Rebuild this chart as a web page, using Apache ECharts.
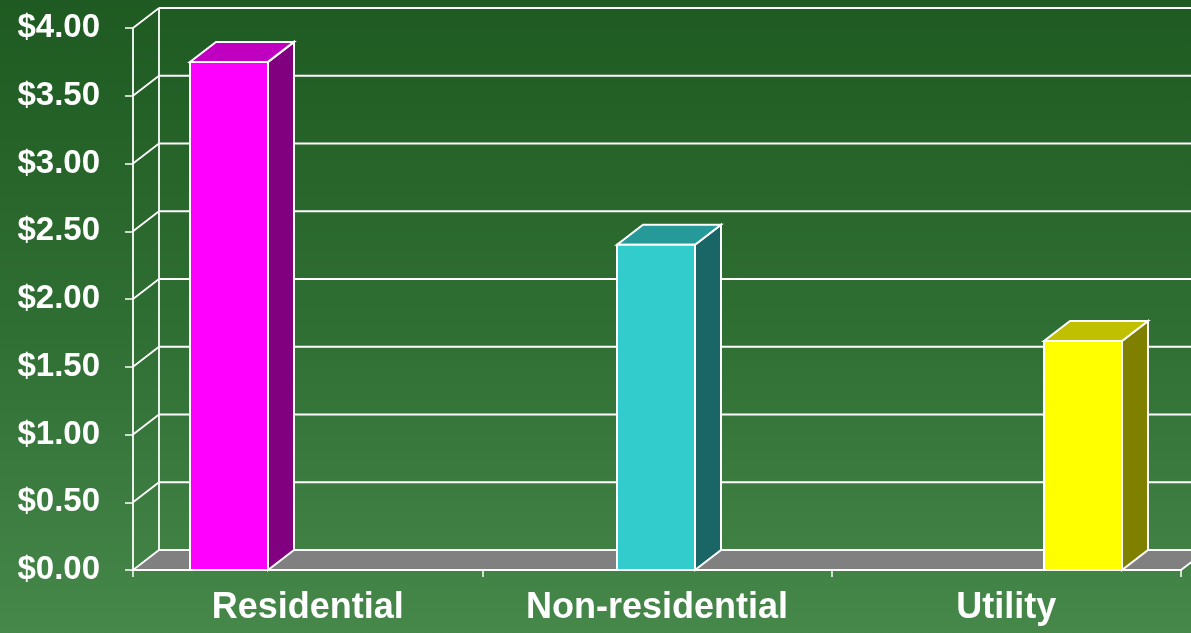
<!DOCTYPE html>
<html>
<head>
<meta charset="utf-8">
<script src="https://cdn.jsdelivr.net/npm/echarts@6/dist/echarts.min.js"></script>
<style>
html,body{margin:0;padding:0;background:#2f6f33;}
#chart{width:1191px;height:633px;}
</style>
</head>
<body>
<div id="chart"></div>
<script>
// ---- data ----
const categories = ['Residential', 'Non-residential', 'Utility'];
const values = [3.75, 2.40, 1.69];
const yMin = 0, yMax = 4, yStep = 0.5;
const yTicks = [0, 0.5, 1, 1.5, 2, 2.5, 3, 3.5, 4];
const frontColors = ['#ff00ff', '#33cccc', '#ffff00'];
const topColors = ['#c000c0', '#269999', '#c0c000'];
const sideColors = ['#800080', '#1a6666', '#808000'];

// ---- style constants ----
const DX = 26, DY = -20;       // 3D depth offset
const BAR_W = 78;
const WHITE = '#ffffff';
const FONT = '"Liberation Sans", Arial, sans-serif';

const chart = echarts.init(document.getElementById('chart'), null, {renderer: 'canvas'});

function frameItem(params, api) {
  const cs = params.coordSys;
  const v = api.value(0);
  const y = api.coord([0, v])[1];
  const x0 = cs.x, x1 = cs.x + cs.width;
  const children = [];
  if (v === yMin) {
    children.push({
      type: 'polygon',
      shape: {points: [[x0, y], [x1, y], [x1 + DX, y + DY], [x0 + DX, y + DY]]},
      style: {fill: '#808080', stroke: WHITE, lineWidth: 1.8}
    });
    children.push({
      type: 'line',
      shape: {x1: x0 + DX, y1: cs.y + DY, x2: x0 + DX, y2: cs.y + cs.height + DY},
      style: {stroke: WHITE, lineWidth: 1.8}
    });
  } else {
    children.push({
      type: 'line',
      shape: {x1: x0 + DX, y1: y + DY, x2: x1 + DX, y2: y + DY},
      style: {stroke: WHITE, lineWidth: 1.8}
    });
    children.push({
      type: 'line',
      shape: {x1: x0, y1: y, x2: x0 + DX, y2: y + DY},
      style: {stroke: WHITE, lineWidth: 1.8}
    });
  }
  return {type: 'group', children: children};
}

function barItem(params, api) {
  const i = api.value(0);
  const v = api.value(1);
  const base = api.coord([i, 0]);
  const top = api.coord([i, v]);
  const xa = base[0] - BAR_W / 2, xb = base[0] + BAR_W / 2;
  const yb = base[1], yt = top[1];
  return {
    type: 'group',
    children: [
      {
        type: 'polygon',
        shape: {points: [[xb, yt], [xb + DX, yt + DY], [xb + DX, yb + DY], [xb, yb]]},
        style: {fill: sideColors[i], stroke: WHITE, lineWidth: 2}
      },
      {
        type: 'polygon',
        shape: {points: [[xa, yt], [xb, yt], [xb + DX, yt + DY], [xa + DX, yt + DY]]},
        style: {fill: topColors[i], stroke: WHITE, lineWidth: 2}
      },
      {
        type: 'rect',
        shape: {x: xa, y: yt, width: BAR_W, height: yb - yt},
        style: {fill: frontColors[i], stroke: WHITE, lineWidth: 2}
      }
    ]
  };
}

const option = {
  animation: false,
  backgroundColor: new echarts.graphic.LinearGradient(0, 0, 0, 1, [
    {offset: 0, color: '#1e5a21'},
    {offset: 0.5, color: '#2f6e33'},
    {offset: 1, color: '#46874a'}
  ]),
  grid: [
    {left: 133, right: 10, top: 28, bottom: 63},
    {left: 229, right: 108, top: 28, bottom: 63}
  ],
  xAxis: [
    {
      type: 'category', gridIndex: 0, data: categories, boundaryGap: true,
      axisLine: {show: true, lineStyle: {color: WHITE, width: 1.8}},
      axisTick: {show: true, length: 7, lineStyle: {color: WHITE, width: 1.5}},
      axisLabel: {color: WHITE, fontFamily: FONT, fontWeight: 'bold', fontSize: 36, margin: 20},
      splitLine: {show: false}
    },
    {
      type: 'category', gridIndex: 1, data: categories, boundaryGap: false, show: false
    }
  ],
  yAxis: [
    {
      type: 'value', gridIndex: 0, min: yMin, max: yMax, interval: yStep,
      axisLine: {show: true, lineStyle: {color: WHITE, width: 1.8}},
      axisTick: {show: true, length: 8, lineStyle: {color: WHITE, width: 1.5}},
      axisLabel: {
        color: WHITE, fontFamily: FONT, fontWeight: 'bold', fontSize: 33, margin: 33,
        formatter: v => '$' + v.toFixed(2)
      },
      splitLine: {show: false}
    },
    {
      type: 'value', gridIndex: 1, min: yMin, max: yMax, interval: yStep, show: false
    }
  ],
  series: [
    {
      type: 'custom', xAxisIndex: 0, yAxisIndex: 0, z: 1,
      data: yTicks.map(v => [v]),
      encode: {y: 0},
      renderItem: frameItem,
      silent: true
    },
    {
      type: 'custom', xAxisIndex: 1, yAxisIndex: 1, z: 3,
      data: values.map((v, i) => [i, v]),
      encode: {x: 0, y: 1},
      renderItem: barItem,
      silent: true
    }
  ]
};
chart.setOption(option);
</script>
</body>
</html>
